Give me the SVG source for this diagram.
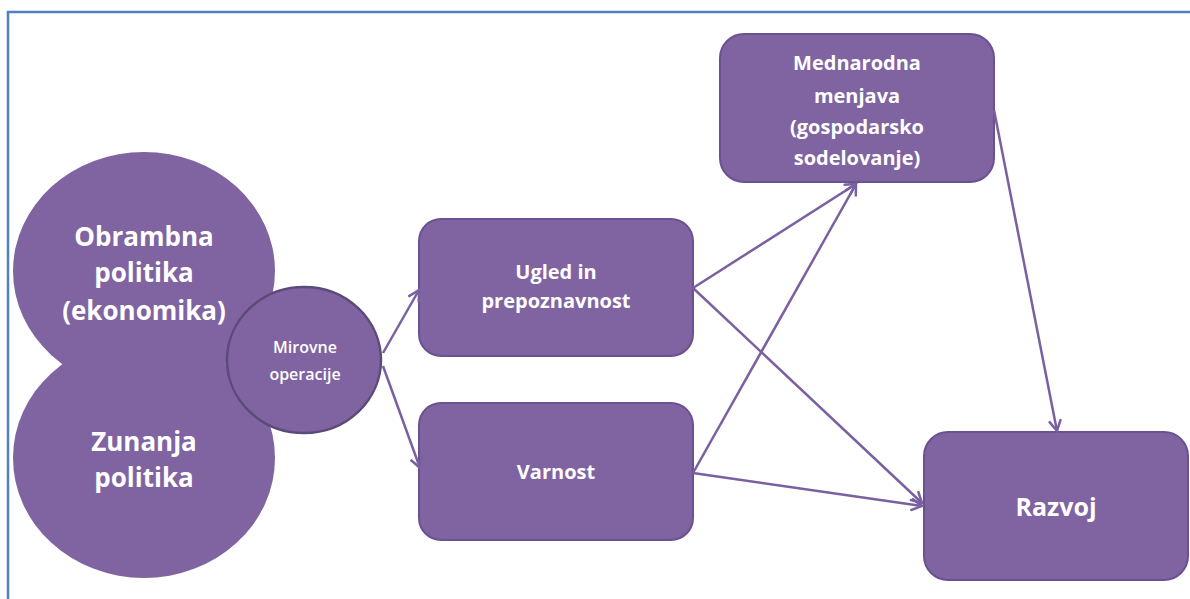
<svg xmlns="http://www.w3.org/2000/svg" width="1190" height="599" viewBox="0 0 1190 599">
<style>
.n{fill:#8064a2;stroke:#6a5290;stroke-width:2}
.big{fill:#8064a2}
.t{font-family:"Open Sans","Liberation Sans",sans-serif;font-weight:bold;fill:#ffffff;text-anchor:middle}
.r{font-family:"Open Sans","Liberation Sans",sans-serif;font-weight:600;fill:#ffffff;text-anchor:middle}
.c{fill:none;stroke:#7a60a0;stroke-width:2.5}
</style>
<defs>
<marker id="ah" markerWidth="14" markerHeight="14" refX="12" refY="7" orient="auto" markerUnits="userSpaceOnUse">
<path d="M1,1 L12,7 L1,13" fill="none" stroke="#7a60a0" stroke-width="2.5"/>
</marker>
</defs>
<rect width="1190" height="599" fill="#ffffff"/>
<rect x="8" y="12" width="1200" height="620" fill="none" stroke="#4f81bd" stroke-width="2.5"/>
<g id="obrambna">
<ellipse class="big" cx="144" cy="271" rx="131" ry="119"/>
</g>
<g id="zunanja">
<ellipse class="big" cx="144" cy="458" rx="131" ry="120"/>
</g>
<g id="obrambna-text">
<text class="t" font-size="26" x="144" y="246">Obrambna</text>
<text class="t" font-size="26" x="144" y="282">politika</text>
<text class="t" font-size="26" x="144" y="320">(ekonomika)</text>
</g>
<g id="zunanja-text">
<text class="t" font-size="26" x="144" y="451">Zunanja</text>
<text class="t" font-size="26" x="144" y="487">politika</text>
</g>
<g id="mirovne">
<ellipse cx="304" cy="360" rx="77" ry="73" fill="#8064a2" stroke="#5c4a78" stroke-width="2.5"/>
<text class="r" font-size="16" x="305" y="353">Mirovne</text>
<text class="r" font-size="16" x="305" y="380">operacije</text>
</g>
<g id="ugled">
<rect class="n" x="419" y="219" width="274" height="137" rx="22"/>
<text class="t" font-size="20" x="556" y="279">Ugled in</text>
<text class="t" font-size="20" x="556" y="308">prepoznavnost</text>
</g>
<g id="varnost">
<rect class="n" x="419" y="403" width="274" height="137" rx="22"/>
<text class="t" font-size="20" x="556" y="479">Varnost</text>
</g>
<g id="mednarodna">
<rect class="n" x="720" y="34" width="274" height="148" rx="24"/>
<text class="t" font-size="20" x="857" y="70">Mednarodna</text>
<text class="t" font-size="20" x="857" y="103">menjava</text>
<text class="t" font-size="20" x="857" y="134">(gospodarsko</text>
<text class="t" font-size="20" x="857" y="165">sodelovanje)</text>
</g>
<g id="razvoj">
<rect class="n" x="924" y="432" width="264" height="148" rx="24"/>
<text class="t" font-size="25" x="1056" y="516">Razvoj</text>
</g>
<g id="connectors">
<line class="c" x1="383" y1="353" x2="419" y2="290" marker-end="url(#ah)"/>
<line class="c" x1="383" y1="366" x2="420" y2="468" marker-end="url(#ah)"/>
<line class="c" x1="693" y1="288" x2="856" y2="184" marker-end="url(#ah)"/>
<line class="c" x1="693" y1="473" x2="856" y2="184" marker-end="url(#ah)"/>
<line class="c" x1="693" y1="288" x2="922" y2="503" marker-end="url(#ah)"/>
<line class="c" x1="693" y1="473" x2="922" y2="506" marker-end="url(#ah)"/>
<line class="c" x1="994" y1="110" x2="1057" y2="431" marker-end="url(#ah)"/>
</g>
</svg>
